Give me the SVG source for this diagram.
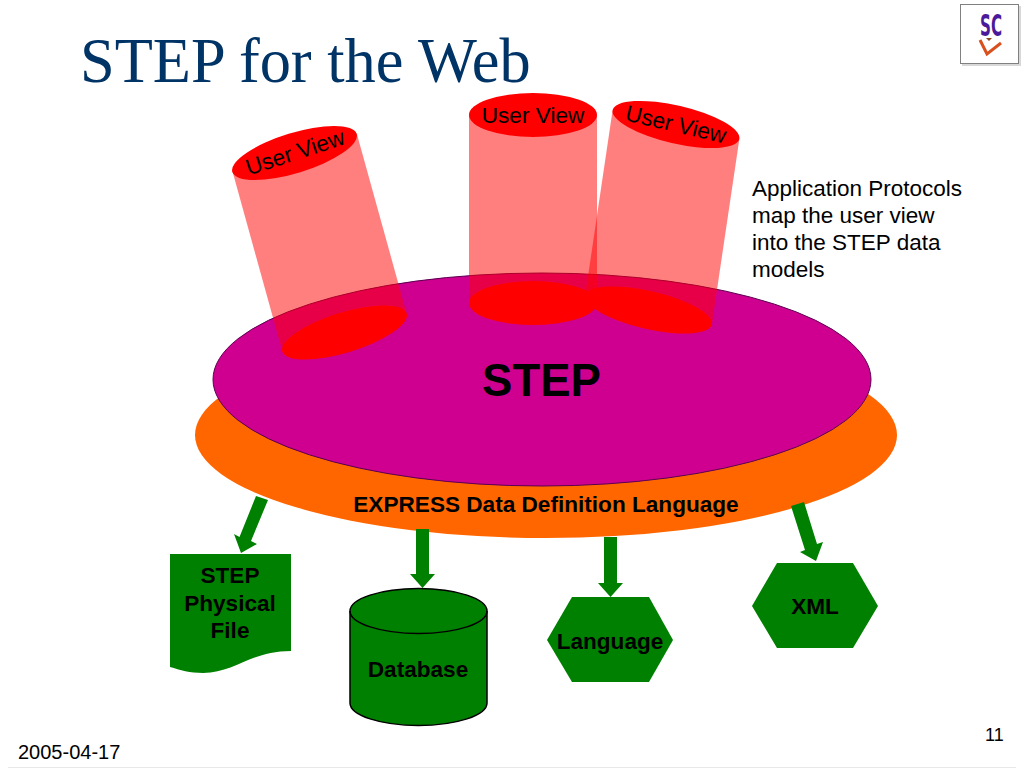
<svg xmlns="http://www.w3.org/2000/svg" width="1024" height="768" viewBox="0 0 1024 768">
<style>
text{font-family:"Liberation Sans",Arial,sans-serif;fill:#000}
.b{font-weight:bold;font-size:22.6px;text-anchor:middle}
.n{font-size:22.5px}
.v{font-size:22.6px;text-anchor:middle}
.g{fill:#008000}
.r{fill:#f00}
.c{fill:#f00;fill-opacity:.5}
</style>
<rect width="1024" height="768" fill="#fff"/>
<path d="M8,767.500H1016" stroke="#e8e8e8" fill="none"/>
<text id="title" x="80" y="82" style="font-family:'Liberation Serif','Times New Roman',serif;font-size:62.400px;fill:#003366">STEP for the Web</text>
<g id="logo">
<rect x="962" y="6" width="59" height="60" fill="#d8d8d8"/>
<rect x="960.5" y="4.500" width="58" height="59" fill="#fff" stroke="#808080"/>
<text x="991" y="36" style="font-size:31px;font-weight:bold;fill:#4b1a9a;text-anchor:middle;font-family:'DejaVu Sans',sans-serif" textLength="22" lengthAdjust="spacingAndGlyphs">SC</text>
<path d="M980,40L987,54L1001,43" fill="none" stroke="#d8501e" stroke-width="3"/>
<path d="M986,38h6l-3,3z" fill="#8a4a20"/>
</g>
<g id="express"><ellipse cx="546" cy="435" rx="351" ry="103" fill="#f60"/></g>
<g id="step"><ellipse cx="542" cy="379.500" rx="329" ry="106.500" fill="#cf0090" stroke="#5a0050" stroke-width="1"/></g>
<g id="view1">
<ellipse cx="344.500" cy="332.500" rx="65" ry="20" transform="rotate(-17 344.500 332.500)" class="r"/>
<path d="M232.300,170.800L282.300,351.300A65,20 -17 0 0 406.700,313.700L356.700,133.200Z" class="c"/>
<ellipse cx="294.500" cy="153" rx="65" ry="20" transform="rotate(-17 294.500 153)" class="r"/>
<text class="v" transform="translate(295 152) rotate(-18)" x="0" y="8">User View</text>
</g>
<g id="view2" transform="translate(533 115)">
<ellipse cx="0" cy="188" rx="64" ry="22" class="r"/>
<path d="M-64,0V188A64,22 0 0 0 64,188V0Z" class="c"/>
<ellipse cx="0" cy="0" rx="64" ry="22" class="r"/>
<text class="v" x="0" y="8">User View</text>
</g>
<g id="view3">
<ellipse cx="648.500" cy="310" rx="65" ry="19" transform="rotate(13 648.500 310)" class="r"/>
<path d="M612.600,110.350L585.100,295.850A65,19 13 0 0 711.900,324.150L739.400,138.650Z" class="c"/>
<ellipse cx="676" cy="124.500" rx="65" ry="19" transform="rotate(13 676 124.500)" class="r"/>
<text class="v" transform="translate(676 124) rotate(13)" x="0" y="8">User View</text>
</g>
<g id="connectors" class="g">
<path d="M256,496L268,500L251,541L257,544L241,553L234,534L239.500,537Z"/>
<path d="M416,529H429V574H435L422.500,588L410,574H416Z"/>
<path d="M604,537H617V583H623L610.500,597L598,583H604Z"/>
<path d="M791,506L804,502L817,544L823,542L816,561L800,552L805,550Z"/>
</g>
<g id="physical">
<path class="g" d="M170,554H291V651C250,651 235,673 203,673C190,673 180,670 170,667Z"/>
<text class="b" x="230" y="583">STEP</text>
<text class="b" x="230" y="611">Physical</text>
<text class="b" x="230" y="638">File</text>
</g>
<g id="database">
<path class="g" stroke="#000" stroke-width="1.500" d="M350,611A68.500,22.500 0 0 1 487,611V703A68.500,22.500 0 0 1 350,703Z"/>
<path fill="none" stroke="#000" stroke-width="1.500" d="M350,611A68.500,22.500 0 0 0 487,611"/>
<text class="b" x="418" y="677">Database</text>
</g>
<g id="language">
<path class="g" d="M572,597H649L673,640L649,682H572L547,640Z"/>
<text class="b" x="610" y="649">Language</text>
</g>
<g id="xml">
<path class="g" d="M777,563H853L878,606L853,648H777L752,606Z"/>
<text class="b" x="815" y="614">XML</text>
</g>
<text id="step-label" x="541.500" y="396" style="font-size:45.500px;font-weight:bold;text-anchor:middle">STEP</text>
<text id="express-label" class="b" x="546" y="512">EXPRESS Data Definition Language</text>
<g id="note">
<text x="752" y="196" class="n">Application Protocols</text>
<text x="752" y="223" class="n">map the user view</text>
<text x="752" y="250" class="n">into the STEP data</text>
<text x="752" y="277" class="n">models</text>
</g>
<text id="page" x="985" y="741" style="font-size:18px">11</text>
<text id="date" x="18" y="759" style="font-size:20px">2005-04-17</text>
</svg>
